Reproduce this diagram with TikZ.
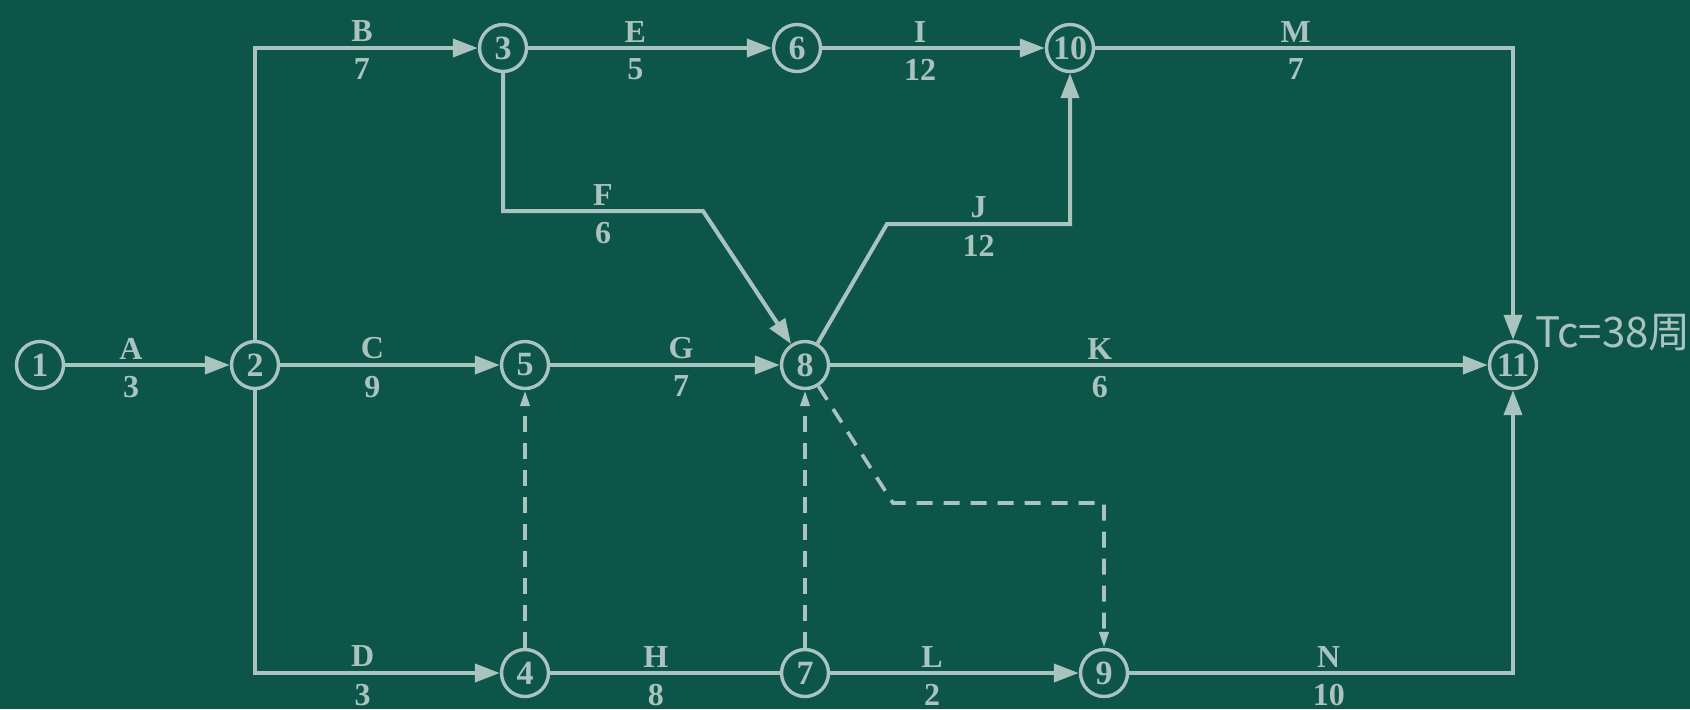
\documentclass[tikz,border=0pt]{standalone}
\usepackage{fontspec}
\setmainfont{Liberation Serif}
\newfontfamily\cjkfont{Noto Sans CJK SC}
\usetikzlibrary{arrows.meta}
\definecolor{netBoard}{HTML}{0D5449}
\definecolor{netChalk}{HTML}{A9C4BE}
\tikzset{
  every picture/.style={text=netChalk},
  net node/.style={circle, draw=netChalk, line width=1.7pt, fill=netBoard,
    minimum size=23.5pt, inner sep=0pt, font=\bfseries\fontsize{17}{17}\selectfont},
  net arrow/.style={-{Triangle[length=12.5pt,width=9pt]},
    draw=netChalk, line width=2pt},
  net line/.style={draw=netChalk, line width=2pt},
  net dummy/.style={-{Triangle[length=8pt,width=4.5pt]},
    draw=netChalk, line width=1.8pt, dash pattern=on 8pt off 5.5pt},
  net name/.style={above, inner sep=2pt, font=\bfseries\fontsize{16}{16}\selectfont},
  net time/.style={below, inner sep=4.5pt, font=\bfseries\fontsize{16}{16}\selectfont}
}

\begin{document}
\begin{tikzpicture}[x=0.5pt,y=-0.5pt]
  \path[use as bounding box, fill=netBoard] (0,0) rectangle (1690,709);
  \foreach \n/\x/\y in {1/40/365, 2/255/365, 3/503/48, 4/525/673, 5/525/365,
      6/797/48, 7/805/673, 8/805/365, 9/1104/673, 10/1070/48, 11/1513/365}
    \node[net node] (n\n) at (\x,\y) {\n};
  \coordinate (fbend) at (703,211);
  \coordinate (jbend) at (887,224);
  \coordinate (dbend) at (893,503);
  \draw[net arrow] (n1) -- node[net name, pos=.4] {A} node[net time, pos=.4] {3} (n2);
  \draw[net arrow] (n2) |- node[net name, pos=.74] {B} node[net time, pos=.74] {7} (n3);
  \draw[net arrow] (n2) -- node[net name, pos=.42] {C} node[net time, pos=.42] {9} (n5);
  \draw[net arrow] (n2) |- node[net name, pos=.72] {D} node[net time, pos=.72] {3} (n4);
  \draw[net arrow] (n3) -- node[net name, pos=.44] {E} node[net time, pos=.44] {5} (n6);
  \draw[net arrow] (n3) |- node[net name, pos=.75] {F} node[net time, pos=.75] {6} (fbend) -- (n8);
  \draw[net arrow] (n5) -- node[net name, pos=.57] {G} node[net time, pos=.57] {7} (n8);
  \draw[net line] (n4) -- node[net name, pos=.46] {H} node[net time, pos=.46] {8} (n7);
  \draw[net arrow] (n6) -- node[net name, pos=.44] {I} node[net time, pos=.44] {12} (n10);
  \draw[net arrow] (n8) -- (jbend) -| node[net name, pos=.25] {J} node[net time, pos=.25] {12} (n10);
  \draw[net arrow] (n8) -- node[net name, pos=.41] {K} node[net time, pos=.41] {6} (n11);
  \draw[net arrow] (n7) -- node[net name, pos=.41] {L} node[net time, pos=.41] {2} (n9);
  \draw[net arrow] (n10) -| node[net name, pos=.24] {M} node[net time, pos=.24] {7} (n11);
  \draw[net arrow] (n9) -| node[net name, pos=.26] {N} node[net time, pos=.26] {10} (n11);
  \draw[net dummy] (n4) -- (n5);
  \draw[net dummy] (n7) -- (n8);
  \draw[net dummy] (n8) -- (dbend) -| (n9);
  \node[anchor=base west, inner sep=0pt, font=\cjkfont\fontsize{21}{21}\selectfont] (tc) at (1535,347) {Tc=38周};
\end{tikzpicture}
\end{document}
